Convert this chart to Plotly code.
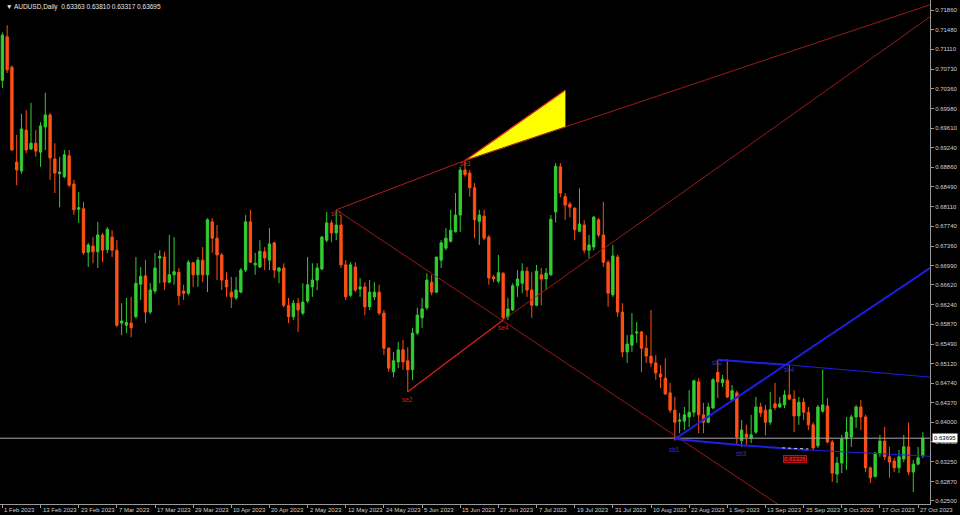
import plotly.graph_objects as go

# ---------------- data ----------------
opens = [0.7052,0.7135,0.7077,0.6896,0.6879,0.6957,0.6921,0.6932,0.6915,0.6963,
         0.6986,0.6902,0.6874,0.6868,0.6908,0.6854,0.6806,0.6807,0.6724,0.6736,
         0.6725,0.6757,0.6729,0.6753,0.6728,0.6589,0.6585,0.6589,0.6601,0.6663,
         0.6679,0.6610,0.6650,0.6713,0.6715,0.6667,0.6681,0.6686,0.6650,0.6646,
         0.6704,0.6681,0.6709,0.6681,0.6782,0.6751,0.6719,0.6671,0.6648,0.6637,
         0.6648,0.6690,0.6782,0.6700,0.6696,0.6725,0.6709,0.6742,0.6688,0.6694,
         0.6623,0.6601,0.6627,0.6608,0.6631,0.6658,0.6671,0.6692,0.6747,0.6780,
         0.6761,0.6776,0.6700,0.6642,0.6696,0.6654,0.6658,0.6620,0.6639,0.6648,
         0.6608,0.6541,0.6496,0.6515,0.6538,0.6517,0.6500,0.6570,0.6599,0.6618,
         0.6667,0.6648,0.6709,0.6732,0.6745,0.6763,0.6795,0.6881,0.6875,0.6847,
         0.6783,0.6793,0.6753,0.6677,0.6669,0.6684,0.6601,0.6614,0.6660,0.6665,
         0.6688,0.6652,0.6623,0.6681,0.6673,0.6681,0.6801,0.6887,0.6830,0.6816,
         0.6808,0.6764,0.6776,0.6728,0.6734,0.6786,0.6757,0.6705,0.6643,0.6715,
         0.6610,0.6534,0.6547,0.6570,0.6572,0.6541,0.6526,0.6513,0.6492,0.6484,
         0.6456,0.6423,0.6402,0.6402,0.6410,0.6419,0.6477,0.6414,0.6400,0.6427,
         0.6495,0.6475,0.6480,0.6442,0.6456,0.6365,0.6377,0.6370,0.6381,0.6429,
         0.6423,0.6400,0.6435,0.6429,0.6433,0.6452,0.6444,0.6412,0.6438,0.6419,
         0.6395,0.6355,0.6421,0.6431,0.6362,0.6301,0.6322,0.6368,0.6372,0.6410,
         0.6429,0.6410,0.6313,0.6296,0.6341,0.6364,0.6334,0.6326,0.6313,0.6330,
         0.6353,0.6305,0.6320,0.63363]
highs = [0.7143,0.7157,0.7080,0.6948,0.6988,0.6995,0.7009,0.6957,0.6972,0.7028,
         0.6990,0.6932,0.6906,0.6919,0.6919,0.6862,0.6839,0.6820,0.6742,0.6753,
         0.6782,0.6761,0.6772,0.6766,0.6747,0.6627,0.6637,0.6639,0.6715,0.6696,
         0.6709,0.6665,0.6723,0.6728,0.6725,0.6757,0.6753,0.6694,0.6662,0.6709,
         0.6706,0.6715,0.6734,0.6789,0.6789,0.6776,0.6723,0.6686,0.6677,0.6677,
         0.6694,0.6795,0.6805,0.6723,0.6747,0.6734,0.6770,0.6744,0.6696,0.6703,
         0.6637,0.6633,0.6637,0.6665,0.6715,0.6703,0.6703,0.6755,0.6801,0.6785,
         0.6805,0.6795,0.6709,0.6705,0.6705,0.6675,0.6667,0.6671,0.6667,0.6662,
         0.6614,0.6543,0.6534,0.6553,0.6557,0.6543,0.6580,0.6618,0.6637,0.6684,
         0.6681,0.6715,0.6747,0.6770,0.6805,0.6837,0.6887,0.6899,0.6881,0.6856,
         0.6805,0.6805,0.6757,0.6681,0.6719,0.6686,0.6637,0.6665,0.6690,0.6703,
         0.6696,0.6686,0.6700,0.6694,0.6694,0.6795,0.6894,0.6894,0.6837,0.6820,
         0.6810,0.6846,0.6785,0.6757,0.6793,0.6789,0.6820,0.6709,0.6738,0.6719,
         0.6627,0.6566,0.6608,0.6591,0.6574,0.6566,0.6614,0.6528,0.6509,0.6522,
         0.6475,0.6448,0.6418,0.6429,0.6461,0.6481,0.6484,0.6437,0.6437,0.6484,
         0.6519,0.6490,0.6520,0.6471,0.6460,0.6404,0.6395,0.6414,0.6448,0.6437,
         0.6433,0.6458,0.6475,0.6448,0.6461,0.6509,0.6461,0.6448,0.6446,0.6429,
         0.6400,0.6433,0.6500,0.6446,0.6366,0.6334,0.6376,0.6410,0.6414,0.6433,
         0.6442,0.6414,0.6315,0.6343,0.6376,0.6391,0.6353,0.6332,0.6347,0.6376,
         0.6399,0.6328,0.6353,0.63810]
lows = [0.7037,0.7066,0.6918,0.6852,0.6874,0.6913,0.6919,0.6906,0.6887,0.6919,
        0.6862,0.6837,0.6810,0.6865,0.6848,0.6795,0.6780,0.6719,0.6696,0.6703,
        0.6694,0.6705,0.6722,0.6715,0.6581,0.6566,0.6570,0.6562,0.6598,0.6633,
        0.6589,0.6606,0.6645,0.6665,0.6652,0.6665,0.6662,0.6623,0.6633,0.6642,
        0.6658,0.6658,0.6667,0.6648,0.6723,0.6671,0.6652,0.6639,0.6618,0.6633,
        0.6646,0.6686,0.6704,0.6681,0.6694,0.6690,0.6690,0.6675,0.6665,0.6619,
        0.6589,0.6595,0.6572,0.6604,0.6627,0.6639,0.6652,0.6690,0.6743,0.6743,
        0.6747,0.6694,0.6633,0.6639,0.6648,0.6639,0.6604,0.6614,0.6633,0.6604,
        0.6528,0.6496,0.6486,0.6503,0.6500,0.6458,0.6480,0.6566,0.6580,0.6614,
        0.6642,0.6646,0.6694,0.6728,0.6743,0.6762,0.6763,0.6868,0.6830,0.6751,
        0.6738,0.6747,0.6662,0.6667,0.6665,0.6595,0.6595,0.6612,0.6639,0.6646,
        0.6639,0.6599,0.6621,0.6623,0.6652,0.6679,0.6781,0.6829,0.6786,0.6791,
        0.6747,0.6763,0.6722,0.6713,0.6728,0.6753,0.6696,0.6620,0.6639,0.6601,
        0.6524,0.6513,0.6534,0.6551,0.6496,0.6513,0.6505,0.6481,0.6465,0.6452,
        0.6418,0.6365,0.6379,0.6385,0.6391,0.6410,0.6379,0.6379,0.6398,0.6425,
        0.6446,0.6467,0.6446,0.6439,0.6357,0.6353,0.6357,0.6360,0.6378,0.6410,
        0.6375,0.6395,0.6423,0.6427,0.6427,0.6442,0.6381,0.6395,0.6404,0.6385,
        0.6347,0.6351,0.6418,0.6360,0.6286,0.6284,0.6303,0.6309,0.6353,0.6389,
        0.6385,0.6305,0.6284,0.6295,0.6334,0.6328,0.6294,0.6305,0.6303,0.6324,
        0.6299,0.6267,0.6318,0.63317]
closes = [0.7138,0.7072,0.6919,0.6881,0.6959,0.6919,0.6932,0.6917,0.6965,0.6986,
          0.6904,0.6875,0.6877,0.6910,0.6852,0.6805,0.6809,0.6723,0.6738,0.6725,
          0.6757,0.6728,0.6768,0.6728,0.6585,0.6593,0.6590,0.6580,0.6665,0.6678,
          0.6610,0.6652,0.6694,0.6716,0.6667,0.6681,0.6687,0.6641,0.6646,0.6705,
          0.6681,0.6709,0.6681,0.6786,0.6751,0.6719,0.6671,0.6658,0.6639,0.6652,
          0.6690,0.6782,0.6705,0.6703,0.6726,0.6713,0.6740,0.6690,0.6694,0.6623,
          0.6601,0.6627,0.6614,0.6629,0.6662,0.6671,0.6694,0.6753,0.6780,0.6761,
          0.6776,0.6700,0.6639,0.6700,0.6652,0.6658,0.6620,0.6648,0.6648,0.6608,
          0.6541,0.6503,0.6517,0.6538,0.6515,0.6500,0.6570,0.6604,0.6616,0.6671,
          0.6648,0.6715,0.6742,0.6751,0.6766,0.6795,0.6881,0.6872,0.6847,0.6786,
          0.6795,0.6751,0.6675,0.6673,0.6685,0.6599,0.6616,0.6660,0.6673,0.6688,
          0.6652,0.6623,0.6688,0.6673,0.6684,0.6787,0.6888,0.6837,0.6814,0.6810,
          0.6767,0.6778,0.6728,0.6738,0.6791,0.6757,0.6705,0.6646,0.6717,0.6610,
          0.6534,0.6549,0.6566,0.6572,0.6541,0.6526,0.6513,0.6494,0.6486,0.6454,
          0.6423,0.6400,0.6404,0.6414,0.6419,0.6479,0.6414,0.6400,0.6429,0.6481,
          0.6477,0.6482,0.6448,0.6460,0.6372,0.6385,0.6372,0.6376,0.6429,0.6418,
          0.6400,0.6424,0.6428,0.6435,0.6452,0.6444,0.6412,0.6438,0.6419,0.6395,
          0.6351,0.6429,0.6433,0.6362,0.6303,0.6322,0.6368,0.6381,0.6410,0.6429,
          0.6410,0.6313,0.6294,0.6341,0.6364,0.6334,0.6324,0.6313,0.6334,0.6353,
          0.6305,0.6320,0.6332,0.63695]
bars = list(range(len(opens)))

date_tick_bars = [0, 8, 16, 24, 32, 40, 48, 56, 64, 72, 80, 88, 96, 104, 112,
                  120, 128, 136, 144, 152, 160, 168, 176, 184, 192]
date_labels = ["1 Feb 2023", "13 Feb 2023", "23 Feb 2023", "7 Mar 2023", "17 Mar 2023",
               "29 Mar 2023", "10 Apr 2023", "20 Apr 2023", "2 May 2023", "12 May 2023",
               "24 May 2023", "5 Jun 2023", "15 Jun 2023", "27 Jun 2023", "7 Jul 2023",
               "19 Jul 2023", "31 Jul 2023", "10 Aug 2023", "22 Aug 2023", "1 Sep 2023",
               "13 Sep 2023", "25 Sep 2023", "5 Oct 2023", "17 Oct 2023", "27 Oct 2023"]
price_ticks = [0.71860, 0.71480, 0.71110, 0.70730, 0.70360, 0.69980, 0.69610, 0.69240,
               0.68860, 0.68490, 0.68110, 0.67740, 0.67360, 0.66990, 0.66620, 0.66240,
               0.65870, 0.65490, 0.65120, 0.64740, 0.64370, 0.64000, 0.63630, 0.63250,
               0.62870, 0.62500]
last_price = 0.63695
title_text = "AUDUSD,Daily  0.63363 0.63810 0.63317 0.63695"

# red pattern points
red_names = ["se1", "se2", "se3", "se4"]
red_bars = [70, 85, 97, 105]
red_prices = [0.6805, 0.6458, 0.6899, 0.6595]
# red projection lines
line_a_bars = [70, 97, 194.5];  line_a_prices = [0.6805, 0.6899, 0.7196]
line_b_bars = [70, 164];        line_b_prices = [0.6805, 0.6235]
line_c_bars = [85, 105, 194.5]; line_c_prices = [0.6458, 0.6595, 0.7173]
tri_bars = [97, 118, 118];      tri_prices = [0.6899, 0.7033, 0.6963]

# blue pattern points
blue_names = ["sb1", "sb2", "sb3", "sb4"]
blue_bars = [141, 150, 155, 165]
blue_prices = [0.6368, 0.6519, 0.6356, 0.6509]
line_d_bars = [141, 194.5];     line_d_prices = [0.6368, 0.6694]
line_e_bars = [150, 165];       line_e_prices = [0.6519, 0.6509]
line_e2_bars = [165, 194.5];    line_e2_prices = [0.6509, 0.6486]
line_f_bars = [141, 155, 169];  line_f_prices = [0.6368, 0.6356, 0.6347]
line_f2_bars = [169, 194.5];    line_f2_prices = [0.6347, 0.6335]
target_text = "0.63326"
target_bar = 166.2
target_price = 0.6330
dots_bars = [163.5, 169];       dots_prices = [0.6351, 0.6349]

# ---------------- styling ----------------
BG = "black"
AX = "#D0D0D0"
FRAME = "#9A9A9A"
BULL = "#32CD32"
BEAR = "#FF5014"
DARKRED = "#9B1B1B"
RED = "#E0201E"
BLUE = "#1E1EE6"
FONT = "Liberation Sans"

fig = go.Figure()

# current price line (beneath candles)
fig.add_trace(go.Scatter(x=[-0.5, 194.5], y=[last_price, last_price], mode="lines",
                         line=dict(color="#A8A8A8", width=1), hoverinfo="skip", showlegend=False))

fig.add_trace(go.Candlestick(
    x=bars, open=opens, high=highs, low=lows, close=closes,
    increasing=dict(line=dict(color=BULL, width=1), fillcolor=BULL),
    decreasing=dict(line=dict(color=BEAR, width=1), fillcolor=BEAR),
    whiskerwidth=0, showlegend=False, hoverinfo="skip"))

def add_line(xs, ys, color, width, dash="solid"):
    fig.add_trace(go.Scatter(x=xs, y=ys, mode="lines", line=dict(color=color, width=width, dash=dash),
                             hoverinfo="skip", showlegend=False))

# yellow triangle
fig.add_trace(go.Scatter(x=tri_bars + [tri_bars[0]], y=tri_prices + [tri_prices[0]], mode="lines",
                         fill="toself", fillcolor="#FFFF00", line=dict(color="#FFFF00", width=0.5),
                         hoverinfo="skip", showlegend=False))
add_line(tri_bars[:2], tri_prices[:2], RED, 1.2)

# red lines
add_line(line_a_bars[:2], line_a_prices[:2], "#B01E1E", 1)
add_line(line_a_bars[1:], line_a_prices[1:], DARKRED, 1)
add_line(line_b_bars, line_b_prices, DARKRED, 1)
add_line(line_c_bars[:2], line_c_prices[:2], RED, 1.2)
add_line(line_c_bars[1:], line_c_prices[1:], DARKRED, 1)

# blue lines
add_line(line_d_bars, line_d_prices, BLUE, 2)
add_line(line_e_bars, line_e_prices, BLUE, 2)
add_line(line_e2_bars, line_e2_prices, BLUE, 1)
add_line(line_f_bars, line_f_prices, BLUE, 2)
add_line(line_f2_bars, line_f2_prices, BLUE, 1)
add_line(dots_bars, dots_prices, "#D0D0D0", 1, "dot")

annotations = []
annotations.append(dict(x=0.004, y=1, xref="paper", yref="paper", xanchor="left", yanchor="top",
                        yshift=-1, showarrow=False, text="▼ " + title_text,
                        font=dict(family=FONT, size=6.5, color="#E8E8E8")))
for b, lab in zip(date_tick_bars, date_labels):
    annotations.append(dict(x=b, y=0, xref="x", yref="paper", xanchor="left", yanchor="top",
                            xshift=0, yshift=-1, showarrow=False, text=lab,
                            font=dict(family=FONT, size=6, color=AX)))
red_shift = [-4, -8, -3, -8]
for n, b, p, s in zip(red_names, red_bars, red_prices, red_shift):
    annotations.append(dict(x=b, y=p, xref="x", yref="y", showarrow=False, text=n, yshift=s,
                            font=dict(family=FONT, size=6.5, color="#D02020")))
blue_shift = [-11, -3, -8, -4]
for n, b, p, s in zip(blue_names, blue_bars, blue_prices, blue_shift):
    annotations.append(dict(x=b, y=p, xref="x", yref="y", showarrow=False, text=n, yshift=s,
                            font=dict(family=FONT, size=6.5, color="#3030D0")))
annotations.append(dict(x=target_bar, y=target_price, xref="x", yref="y", showarrow=False,
                        text=target_text, bgcolor="#5A0000", bordercolor="#C01010", borderwidth=1,
                        borderpad=0, font=dict(family=FONT, size=6, color="#FF4040")))
annotations.append(dict(x=1, y=last_price, xref="paper", yref="y", xanchor="left", showarrow=False,
                        xshift=2, text=f"{last_price:.5f}", bgcolor="white", borderpad=1,
                        font=dict(family=FONT, size=6, color="black")))

fig.update_layout(
    width=960, height=515,
    margin=dict(l=0, r=30, t=0, b=11),
    paper_bgcolor=BG, plot_bgcolor=BG,
    showlegend=False,
    annotations=annotations,
    xaxis=dict(range=[-0.5, 194.5], showgrid=False, zeroline=False, showline=True,
               linecolor=FRAME, linewidth=1, tickvals=date_tick_bars, ticks="outside",
               ticklen=3, tickcolor=FRAME, showticklabels=False, rangeslider=dict(visible=False),
               fixedrange=True),
    yaxis=dict(range=[0.62440, 0.72051], side="right", showgrid=False, zeroline=False,
               showline=True, mirror=True, linecolor=FRAME, linewidth=1,
               tickvals=price_ticks, ticktext=[f"{v:.5f}" for v in price_ticks],
               ticks="outside", ticklen=3, tickcolor=FRAME,
               tickfont=dict(family=FONT, size=6, color=AX)),
)

fig.write_html("out.html",
               config={"displayModeBar": False},
               post_script="document.body.style.margin='0';document.body.style.background='black';"
                           "document.body.style.overflow='hidden';")
